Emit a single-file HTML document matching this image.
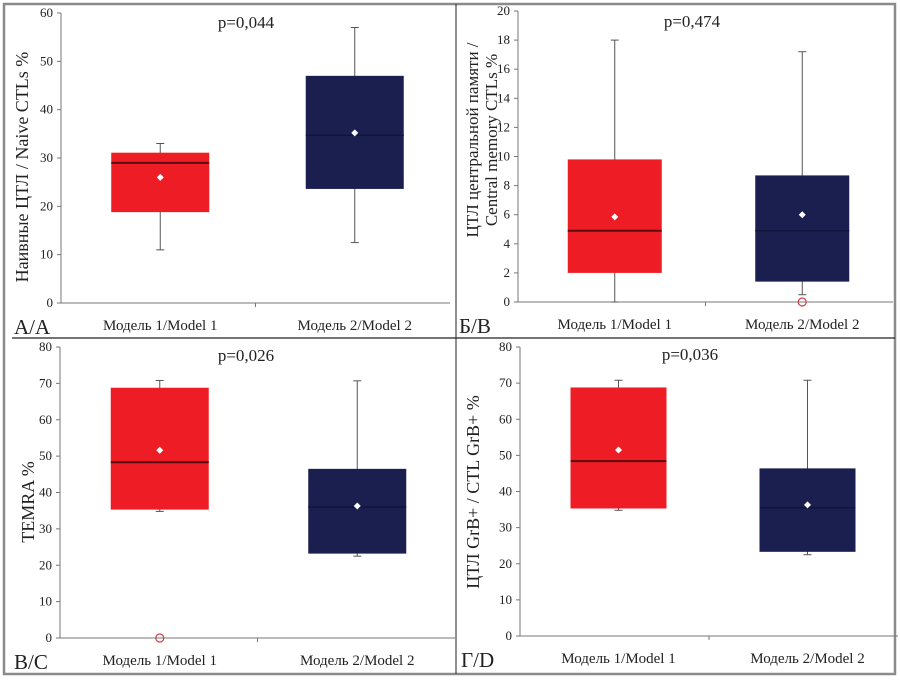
<!DOCTYPE html>
<html><head><meta charset="utf-8"><style>
html,body{margin:0;padding:0;background:#fff;}
svg text{font-family:"Liberation Serif","DejaVu Serif",serif;fill:#222;}
</style></head><body>
<svg id="chart" width="900" height="679" xmlns="http://www.w3.org/2000/svg">
<rect x="4" y="4" width="891" height="670" fill="none" stroke="#8a8a8a" stroke-width="2.5"/>
<line x1="12" y1="338" x2="895" y2="338" stroke="#222" stroke-width="1.2"/>
<line x1="456" y1="4" x2="456" y2="674" stroke="#222" stroke-width="1"/>
</svg>
<script>
// Panel A data
const catLabels = ["Модель 1/Model 1", "Модель 2/Model 2"];
const aQ1 = [18.8, 23.6], aQ3 = [31.1, 47.0], aMed = [29.0, 34.7], aMean = [26.0, 35.2], aMin = [11.0, 12.5], aMax = [33.0, 57.0], aOut = [[], []];
const aTicks = [0, 10, 20, 30, 40, 50, 60];
// Panel B data
const bQ1 = [2.0, 1.4], bQ3 = [9.8, 8.7], bMed = [4.9, 4.9], bMean = [5.85, 6.0], bMin = [0, 0.5], bMax = [18.0, 17.2], bOut = [[], [0]];
const bTicks = [0, 2, 4, 6, 8, 10, 12, 14, 16, 18, 20];
// Panel C data
const cQ1 = [35.3, 23.2], cQ3 = [68.8, 46.5], cMed = [48.3, 36.0], cMean = [51.6, 36.3], cMin = [34.8, 22.5], cMax = [70.8, 70.7], cOut = [[0], []];
const cTicks = [0, 10, 20, 30, 40, 50, 60, 70, 80];
// Panel D data
const dQ1 = [35.3, 23.3], dQ3 = [68.8, 46.4], dMed = [48.4, 35.5], dMean = [51.5, 36.3], dMin = [34.8, 22.5], dMax = [70.8, 70.8], dOut = [[], []];
const dTicks = [0, 10, 20, 30, 40, 50, 60, 70, 80];

const NS = "http://www.w3.org/2000/svg";
const svg = document.getElementById("chart");
function mk(tag, attrs, parent) {
  const e = document.createElementNS(NS, tag);
  for (const k in attrs) e.setAttribute(k, attrs[k]);
  (parent || svg).appendChild(e);
  return e;
}
const colors = ["#ee1c24", "#1b1f4f"];
const medColors = ["#5a0b10", "#10143a"];

function panel(p) {
  const g = mk("g", {});
  
  
  const vmax = p.ticks[p.ticks.length - 1];
  const y = v => p.y0 - (v / vmax) * (p.y0 - p.yTop);
  const xc = i => p.ax + (p.right - p.ax) * (i + 0.5) / 2 + p.shift;
  const ya = mk("line", {x1: p.ax, y1: p.yTop, x2: p.ax, y2: p.y0, stroke: "#777", "stroke-width": 1}, g);
  
  
  const xa = mk("line", {x1: p.ax, y1: p.y0, x2: p.right, y2: p.y0, stroke: "#777", "stroke-width": 1}, g);
  
  
  const mt = mk("line", {x1: (p.ax + p.right) / 2, y1: p.y0, x2: (p.ax + p.right) / 2, y2: p.y0 + 4, stroke: "#777"}, g);
  
  
  p.ticks.forEach(t => {
    const tl = mk("line", {x1: p.ax - 4, y1: y(t), x2: p.ax, y2: y(t), stroke: "#777"}, g);
    
    
    const tx = mk("text", {x: p.ax - 8, y: y(t) + 4, "text-anchor": "end", "font-size": 13}, g);
    tx.textContent = t;
    
    
  });
  for (let i = 0; i < 2; i++) {
    const c = xc(i), hw = p.bw / 2;
    const w1 = mk("line", {x1: c, y1: y(p.max[i]), x2: c, y2: y(p.min[i]), stroke: "#555", "stroke-width": 1}, g);
    
    
    [p.max[i], p.min[i]].forEach(v => {
      const cap = mk("line", {x1: c - 4, y1: y(v), x2: c + 4, y2: y(v), stroke: "#555"}, g);
      
      
    });
    const b = mk("rect", {x: c - hw, y: y(p.q3[i]), width: p.bw, height: y(p.q1[i]) - y(p.q3[i]), fill: colors[i]}, g);
    
    
    const md = mk("line", {x1: c - hw, y1: y(p.med[i]), x2: c + hw, y2: y(p.med[i]), stroke: medColors[i], "stroke-width": i === 0 ? 2 : 1.5}, g);
    
    
    const mv = y(p.mean[i]);
    const mn = mk("polygon", {points: `${c},${mv - 3.5} ${c + 3.5},${mv} ${c},${mv + 3.5} ${c - 3.5},${mv}`, fill: "#fff"}, g);
    
    
    p.out[i].forEach(v => {
      const o = mk("circle", {cx: c, cy: y(v), r: 4, fill: "none", stroke: "#d04050", "stroke-width": 1.2}, g);
      
      
    });
    const cl = mk("text", {x: c, y: p.y0 + 27, "text-anchor": "middle", "font-size": 15}, g);
    cl.textContent = catLabels[i];
    
    
  }
  const pv = mk("text", {x: p.px, y: p.py, "text-anchor": "middle", "font-size": 17}, g);
  pv.textContent = p.p;
  
  
  const lt = mk("text", {x: p.lx, y: p.y0 + 31, "font-size": 21}, g);
  lt.textContent = p.letter;
  
  
  p.title.forEach((line, k) => {
    const tx = p.tx + k * 19, ty = p.tcy;
    const t = mk("text", {x: tx, y: ty, "text-anchor": "middle", "font-size": p.tfs, transform: `rotate(-90 ${tx} ${ty})`}, g);
    t.textContent = line;
    
    
  });
}
panel({id: "panel-a", ax: 61, right: 450, y0: 303, yTop: 13, bw: 98, shift: 2, ticks: aTicks, q1: aQ1, q3: aQ3, med: aMed, mean: aMean, min: aMin, max: aMax, out: aOut, p: "p=0,044", px: 246, py: 28, letter: "A/A", lx: 14, title: ["Наивные ЦТЛ / Naive CTLs %"], tx: 28, tcy: 167, tfs: 18});
panel({id: "panel-b", ax: 518, right: 893, y0: 302, yTop: 11, bw: 94, shift: 3, ticks: bTicks, q1: bQ1, q3: bQ3, med: bMed, mean: bMean, min: bMin, max: bMax, out: bOut, p: "p=0,474", px: 692, py: 27, letter: "Б/В", lx: 459, title: ["ЦТЛ центральной памяти /", "Central memory CTLs %"], tx: 478, tcy: 140, tfs: 17});
panel({id: "panel-c", ax: 60, right: 455, y0: 638, yTop: 347, bw: 98, shift: 1, ticks: cTicks, q1: cQ1, q3: cQ3, med: cMed, mean: cMean, min: cMin, max: cMax, out: cOut, p: "p=0,026", px: 246, py: 361, letter: "В/С", lx: 14, title: ["TEMRA %"], tx: 34, tcy: 502, tfs: 18});
panel({id: "panel-d", ax: 520, right: 898, y0: 636, yTop: 347, bw: 96, shift: 4, ticks: dTicks, q1: dQ1, q3: dQ3, med: dMed, mean: dMean, min: dMin, max: dMax, out: dOut, p: "p=0,036", px: 690, py: 360, letter: "Г/D", lx: 461, title: ["ЦТЛ GrB+ / CTL GrB+ %"], tx: 479, tcy: 492, tfs: 18});
</script>
</body></html>
